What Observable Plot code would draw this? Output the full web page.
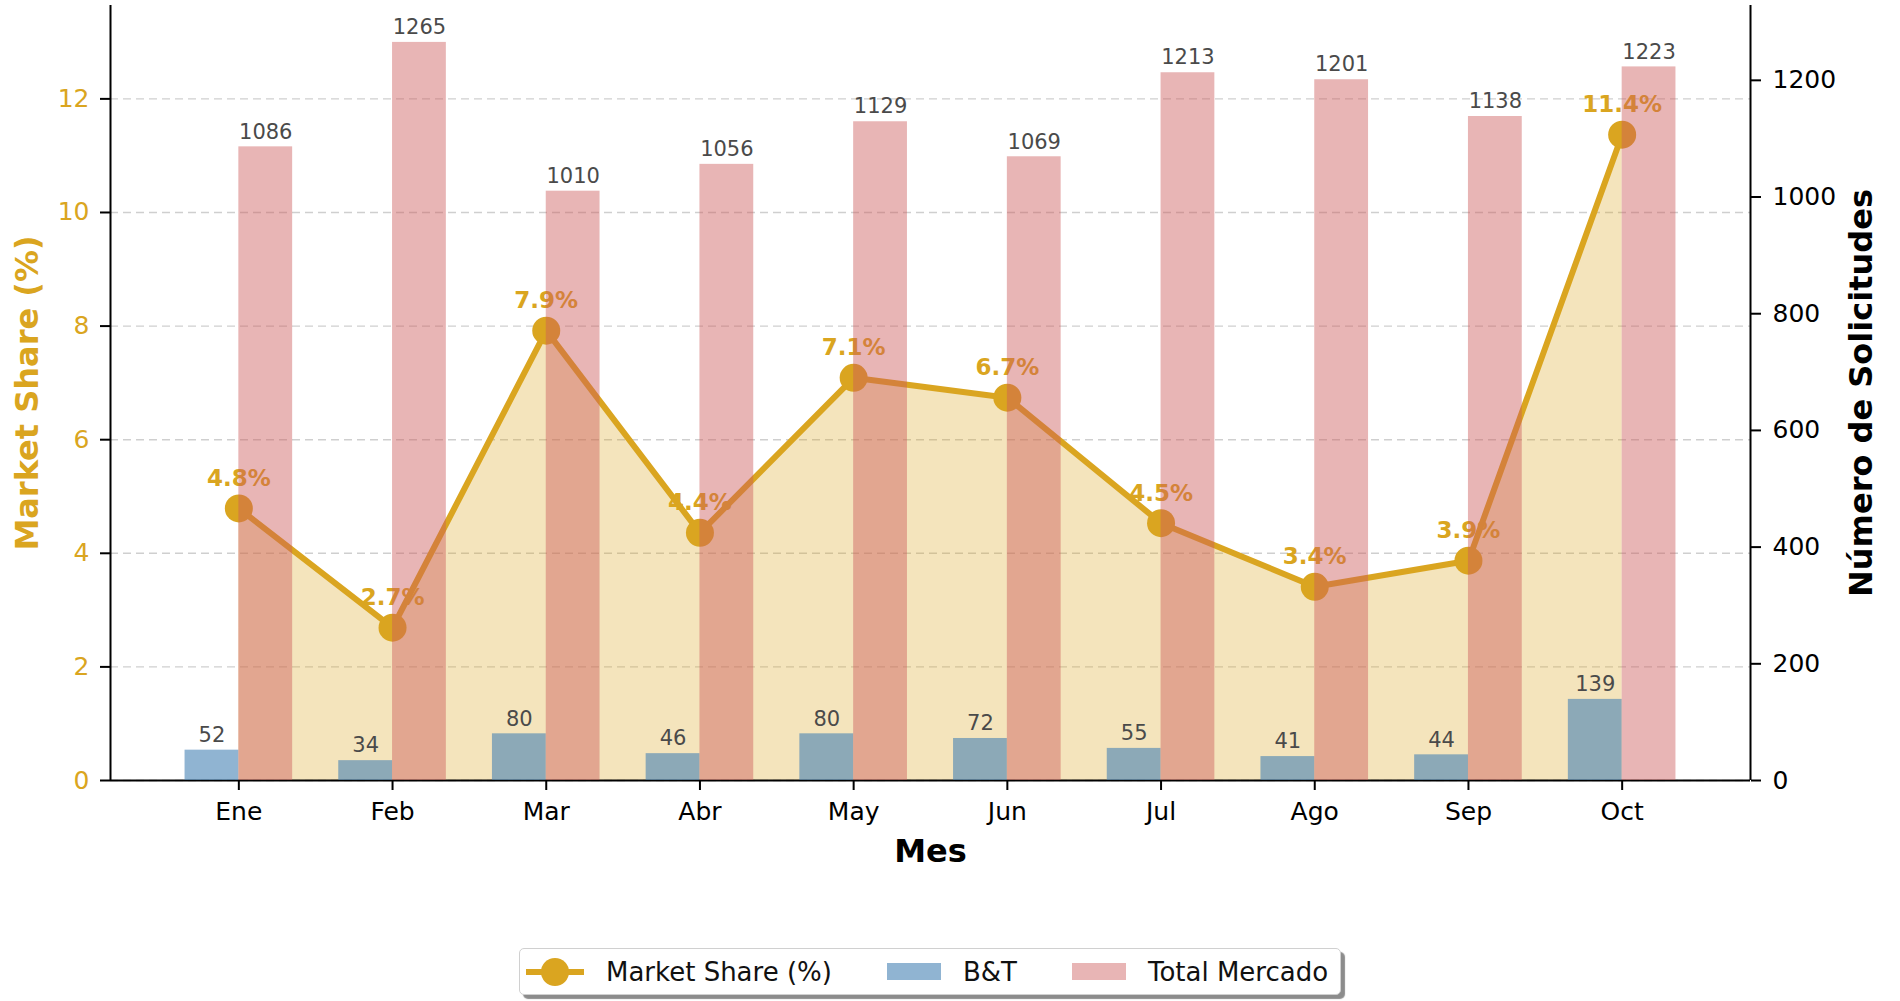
<!DOCTYPE html>
<html>
<head>
<meta charset="utf-8">
<script src="https://cdn.jsdelivr.net/npm/d3@7"></script>
<script src="https://cdn.jsdelivr.net/npm/@observablehq/plot@0.6"></script>
<style>
  html, body { margin: 0; padding: 0; background: white; overflow: hidden; }
  #wrap { position: relative; width: 1900px; height: 1001px; font-family: "DejaVu Sans", sans-serif; }
  #wrap svg { position: absolute; left: 0; top: 0; }
  #legend {
    position: absolute; left: 519px; top: 948px; height: 47px;
    box-sizing: border-box; border: 1.5px solid #d0d0d0; border-radius: 5px; background: white;
    box-shadow: 4px 4px 1px rgba(0,0,0,0.45);
    display: flex; align-items: center; padding: 0 12px 0 6px;
    font-size: 26px; color: #111;
  }
  .item { display: flex; align-items: center; gap: 22px; margin-right: 55px; }
  .item:last-child { margin-right: 0; }
  .patch { width: 54px; height: 17px; }
</style>
</head>
<body>
<div id="wrap"></div>
<script>
const months = ["Ene", "Feb", "Mar", "Abr", "May", "Jun", "Jul", "Ago", "Sep", "Oct"];
const marketShare = [4.79, 2.69, 7.92, 4.36, 7.09, 6.74, 4.53, 3.41, 3.87, 11.37];
const btRequests = [52, 34, 80, 46, 80, 72, 55, 41, 44, 139];
const totalMarket = [1086, 1265, 1010, 1056, 1129, 1069, 1213, 1201, 1138, 1223];
const leftTicks = [0, 2, 4, 6, 8, 10, 12];
const rightTicks = [0, 200, 400, 600, 800, 1000, 1200];

const gold = "#DAA520";
const blueBar = "rgba(70,130,180,0.6)";
const pinkBar = "rgba(205,92,92,0.45)";
const barW = 0.35;
const n = months.length;
const pad = 0.05 * ((n - 1) + 2 * barW);
const xDomain = [-barW - pad, (n - 1) + barW + pad];

const rows = months.map((m, i) => ({i, month: m, share: marketShare[i], bt: btRequests[i], total: totalMarket[i]}));
const fmt = d3.format(".1f");

const common = {
  width: 1900, height: 940,
  marginLeft: 110, marginRight: 150, marginTop: 5, marginBottom: 160
};

const layer1 = Plot.plot({
  ...common,
  style: {fontFamily: "DejaVu Sans", background: "white", overflow: "visible"},
  x: {domain: xDomain},
  y: {domain: [0, d3.max(marketShare) * 1.2]},
  marks: [
    Plot.gridY(leftTicks, {stroke: "#cfcfcf", strokeOpacity: 1, strokeWidth: 1.4, strokeDasharray: "8,5"}),
    Plot.areaY(rows, {x: "i", y: "share", fill: gold, fillOpacity: 0.3}),
    Plot.line(rows, {x: "i", y: "share", stroke: gold, strokeWidth: 6}),
    Plot.dot(rows, {x: "i", y: "share", r: 14, fill: gold, stroke: "none"}),
    Plot.text(rows, {x: "i", y: "share", text: d => fmt(d.share) + "%", dy: -30, fill: gold, fontWeight: "bold", fontSize: 23}),
    Plot.ruleY([0], {stroke: "black", strokeWidth: 2}),
    Plot.ruleX([xDomain[0]], {stroke: "black", strokeWidth: 2}),
    Plot.axisY({ticks: leftTicks, tickFormat: d => String(d), tickSize: 10, tickPadding: 11, fontSize: 25, stroke: "black", strokeWidth: 2, fill: gold, label: null}),
    Plot.axisX({ticks: d3.range(n), tickFormat: i => months[i], tickSize: 10, tickPadding: 12, fontSize: 25, stroke: "black", strokeWidth: 2, fill: "black", label: null}),
    Plot.text(["Market Share (%)"], {text: d => d, frameAnchor: "left", textAnchor: "middle", lineAnchor: "middle", dx: -83, rotate: -90, fill: gold, fontWeight: "bold", fontSize: 32}),
    Plot.text(["Mes"], {text: d => d, frameAnchor: "bottom", lineAnchor: "middle", dy: 71, fill: "black", fontWeight: "bold", fontSize: 32})
  ]
});

const layer2 = Plot.plot({
  ...common,
  style: {fontFamily: "DejaVu Sans", background: "transparent", overflow: "visible"},
  x: {domain: xDomain, axis: null},
  y: {domain: [0, d3.max(totalMarket) * 1.05]},
  marks: [
    Plot.rectY(rows, {x1: d => d.i - barW, x2: d => d.i, y: "bt", fill: blueBar}),
    Plot.rectY(rows, {x1: d => d.i, x2: d => d.i + barW, y: "total", fill: pinkBar}),
    Plot.text(rows, {x: d => d.i - barW / 2, y: "bt", text: d => String(d.bt), dy: -15, fill: "#4a4a4a", fontSize: 21}),
    Plot.text(rows, {x: d => d.i + barW / 2, y: "total", text: d => String(d.total), dy: -15, fill: "#4a4a4a", fontSize: 21}),
    Plot.ruleX([xDomain[1]], {stroke: "black", strokeWidth: 2}),
    Plot.axisY({anchor: "right", ticks: rightTicks, tickFormat: d => String(d), tickSize: 10, tickPadding: 12, fontSize: 25, stroke: "black", strokeWidth: 2, fill: "black", label: null}),
    Plot.text(["Número de Solicitudes"], {text: d => d, frameAnchor: "right", textAnchor: "middle", lineAnchor: "middle", dx: 111, rotate: -90, fill: "black", fontWeight: "bold", fontSize: 32})
  ]
});

const wrap = document.getElementById("wrap");
wrap.appendChild(layer1);
wrap.appendChild(layer2);

const legend = document.createElement("div");
legend.id = "legend";
legend.innerHTML = `
  <div class="item">
    <svg width="58" height="30" style="position:static"><line x1="0" y1="15" x2="58" y2="15" stroke="${gold}" stroke-width="6"/><circle cx="29" cy="15" r="14" fill="${gold}"/></svg>
    <span>Market Share (%)</span>
  </div>
  <div class="item"><div class="patch" style="background:${blueBar}"></div><span>B&amp;T</span></div>
  <div class="item"><div class="patch" style="background:${pinkBar}"></div><span>Total Mercado</span></div>
`;
wrap.appendChild(legend);
</script>
</body>
</html>
